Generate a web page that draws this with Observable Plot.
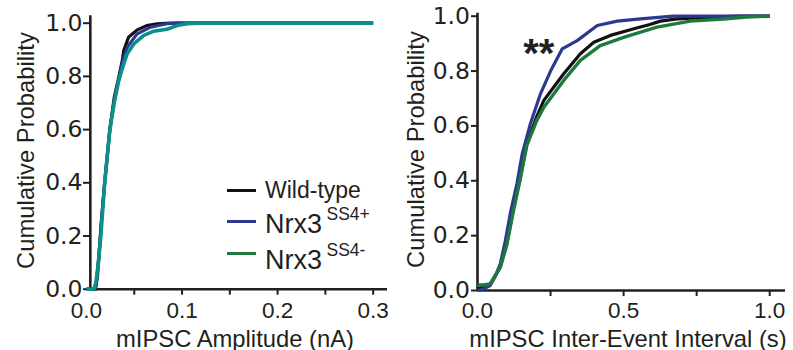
<!DOCTYPE html>
<html><head><meta charset="utf-8">
<script src="https://cdn.jsdelivr.net/npm/d3@7"></script>
<script src="https://cdn.jsdelivr.net/npm/@observablehq/plot@0.6"></script>
<style>
body{margin:0;background:#fff;}
#wrap{position:relative;width:793px;height:350px;display:flex;font-family:"Liberation Sans",Arial,sans-serif;color:#231f20;overflow:hidden}
#left{position:relative;width:395px;height:350px}
#right{position:relative;width:398px;height:350px}
.lg{position:absolute;white-space:nowrap;}
.lgline{position:absolute;height:3px;width:29px;}
svg{overflow:visible}
</style></head><body>
<div id="wrap"><div id="left"></div><div id="right"></div></div>
<script>
// ---- series names / legend ----
const seriesNames = ["Wild-type", "Nrx3", "Nrx3"];
const seriesSup = ["", "SS4+", "SS4-"];
const ampColors = ["#111111", "#2b3990", "#0b8f89"];
const ieiColors = ["#111111", "#2b3990", "#1d7a3c"];

// ---- mIPSC amplitude (nA) cumulative probability ----
const ampWildType = [[0,0],[0.0095,0],[0.0115,0.05],[0.0135,0.15],[0.0155,0.25],[0.019,0.4],[0.0244,0.6],[0.029,0.72],[0.034,0.8],[0.0375,0.86],[0.039,0.897],[0.044,0.947],[0.053,0.975],[0.063,0.991],[0.074,0.998],[0.088,1],[0.3,1]];
const ampSS4plus = [[0,0],[0.009,0],[0.011,0.05],[0.0135,0.15],[0.0155,0.25],[0.019,0.4],[0.0244,0.6],[0.029,0.71],[0.0345,0.8],[0.038,0.86],[0.0426,0.91],[0.053,0.96],[0.067,0.985],[0.084,0.998],[0.095,1],[0.3,1]];
const ampSS4minus = [[0,0],[0.008,0],[0.01,0.03],[0.0125,0.1],[0.015,0.2],[0.019,0.4],[0.0245,0.6],[0.029,0.7],[0.0335,0.78],[0.0366,0.82],[0.039,0.847],[0.0426,0.885],[0.0495,0.922],[0.06,0.954],[0.0704,0.97],[0.084,0.977],[0.095,0.991],[0.105,0.998],[0.119,1],[0.3,1]];

// ---- mIPSC inter-event interval (s) cumulative probability ----
const ieiWildType = [[0,0.005],[0.043,0.02],[0.078,0.085],[0.1,0.17],[0.123,0.3],[0.146,0.41],[0.169,0.535],[0.203,0.635],[0.227,0.693],[0.295,0.79],[0.352,0.863],[0.398,0.905],[0.455,0.93],[0.535,0.954],[0.59,0.97],[0.626,0.982],[0.683,0.99],[0.785,0.996],[0.9,1],[1,1]];
const ieiSS4plus = [[0,0],[0.02,0.005],[0.043,0.018],[0.06,0.05],[0.078,0.097],[0.095,0.18],[0.112,0.28],[0.135,0.39],[0.153,0.498],[0.181,0.608],[0.2155,0.717],[0.25,0.8],[0.29,0.881],[0.341,0.911],[0.41,0.966],[0.478,0.982],[0.558,0.99],[0.67,1],[1,1]];
const ieiSS4minus = [[0,0.02],[0.02,0.02],[0.043,0.024],[0.078,0.085],[0.1,0.165],[0.123,0.29],[0.146,0.405],[0.169,0.53],[0.203,0.62],[0.227,0.668],[0.295,0.766],[0.352,0.839],[0.42,0.893],[0.5,0.923],[0.614,0.96],[0.728,0.982],[0.842,0.99],[0.92,0.997],[1,1]];

// ---- ticks & labels ----
const ampTickLabels = [0, 0.1, 0.2, 0.3];
const ampTickMarks = [0.05, 0.1, 0.15, 0.2, 0.25, 0.3];
const ieiTickLabels = [0, 0.5, 1.0];
const ieiTickMarks = [0.25, 0.5, 0.75, 1.0];
const probTicks = [0, 0.2, 0.4, 0.6, 0.8, 1.0];
const yLabel = "Cumulative Probability";
const ampLabel = "mIPSC Amplitude (nA)";
const ieiLabel = "mIPSC Inter-Event Interval (s)";
const annotation = [{x: 0.21, y: 0.86, text: "**"}];

const ink = "#231f20";
const font = "'Liberation Sans', Arial, sans-serif";
const yTickFont = "'DejaVu Sans', sans-serif";
const rows = s => s.map(([x, y]) => ({x, y}));

function seriesMarks(list, colors, widths) {
  return list.map((s, i) => Plot.line(rows(s), {x: "x", y: "y", stroke: colors[i], strokeWidth: widths[i], strokeLinejoin: "round", strokeLinecap: "butt"}));
}

const left = Plot.plot({
  width: 395, height: 350,
  marginLeft: 86, marginRight: 8, marginTop: 22.7, marginBottom: 61.3,
  style: {fontFamily: font, background: "white", overflow: "visible"},
  x: {domain: [0, 0.315]},
  y: {domain: [0, 1]},
  marks: [
    Plot.axisY(probTicks, {anchor: "left", tickSize: 7, tickPadding: 1, dx: 4, fontSize: 23.5, fontFamily: yTickFont, color: ink, strokeWidth: 2, label: null, tickFormat: d => d.toFixed(1)}),
    Plot.axisX(ampTickLabels, {anchor: "bottom", tickSize: 0, tickPadding: 13, fontSize: 22.5, color: ink, label: null, tickFormat: d => d.toFixed(1)}),
    Plot.axisX(ampTickMarks, {anchor: "bottom", tickSize: 6, strokeWidth: 2, color: ink, label: null, tickFormat: () => ""}),
    Plot.ruleX([0.004], {y1: -0.005, y2: 1.028, stroke: ink, strokeWidth: 2.6}),
    Plot.ruleY([0], {x1: 0.004, x2: 0.315, stroke: ink, strokeWidth: 2.6}),
    ...seriesMarks([ampWildType, ampSS4plus, ampSS4minus], ampColors, [3.2, 3.2, 3.6]),
    Plot.text([yLabel], {frameAnchor: "left", textAnchor: "middle", rotate: -90, dx: -53, dy: -5.7, lineAnchor: "bottom", fontSize: 23.8, fill: ink}),
    Plot.text([ampLabel], {frameAnchor: "bottom", textAnchor: "middle", dx: -2, dy: 57.3, lineAnchor: "bottom", fontSize: 23.8, fill: ink})
  ]
});

const right = Plot.plot({
  width: 398, height: 350,
  marginLeft: 82, marginRight: 8, marginTop: 15.7, marginBottom: 60,
  style: {fontFamily: font, background: "white", overflow: "visible"},
  x: {domain: [0, 1.054]},
  y: {domain: [0, 1]},
  marks: [
    Plot.axisY(probTicks, {anchor: "left", tickSize: 6, tickPadding: 1.5, fontSize: 23.5, fontFamily: yTickFont, color: ink, strokeWidth: 2, label: null, tickFormat: d => d.toFixed(1)}),
    Plot.axisX(ieiTickLabels, {anchor: "bottom", tickSize: 0, tickPadding: 11.7, fontSize: 22.5, color: ink, label: null, tickFormat: d => d.toFixed(1)}),
    Plot.axisX(ieiTickMarks, {anchor: "bottom", tickSize: 6, strokeWidth: 2, color: ink, label: null, tickFormat: () => ""}),
    Plot.ruleX([0], {y1: -0.004, y2: 1.011, stroke: ink, strokeWidth: 2.6}),
    Plot.ruleY([0], {x1: 0, x2: 1.054, stroke: ink, strokeWidth: 2.6}),
    ...seriesMarks([ieiWildType, ieiSS4plus, ieiSS4minus], ieiColors, [3.2, 3.2, 3.4]),
    Plot.text(annotation, {x: "x", y: "y", text: "text", fontSize: 40, fontWeight: "bold", fill: ink, lineAnchor: "middle"}),
    Plot.text([yLabel], {frameAnchor: "left", textAnchor: "middle", rotate: -90, dx: -53.7, dy: -3.8, lineAnchor: "bottom", fontSize: 23.8, fill: ink}),
    Plot.text([ieiLabel], {frameAnchor: "bottom", textAnchor: "middle", dx: -3.5, dy: 56, lineAnchor: "bottom", fontSize: 23.8, fill: ink})
  ]
});

document.getElementById("left").appendChild(left);
document.getElementById("right").appendChild(right);

// ---- legend (HTML overlay on left panel) ----
const legendLineY = [190.7, 221.7, 253.3];
const legendBase = [198.3, 234, 270];
const supBase = [null, 220.7, 257.3];
const lg = document.getElementById("left");
function place(text, x, baseline, size) {
  const el = document.createElement("div");
  el.className = "lg";
  el.textContent = text;
  el.style.fontSize = size + "px";
  el.style.lineHeight = size + "px";
  el.style.left = x + "px";
  el.style.top = (baseline - 0.8465 * size) + "px";
  lg.appendChild(el);
  return el;
}
seriesNames.forEach((name, i) => {
  const line = document.createElement("div");
  line.className = "lgline";
  line.style.left = "227px";
  line.style.top = (legendLineY[i] - 1.5) + "px";
  line.style.background = ieiColors[i];
  lg.appendChild(line);
  const size = seriesSup[i] ? 27 : 23;
  const el = place(name, 265, legendBase[i], size);
  if (seriesSup[i]) {
    const w = el.getBoundingClientRect().width;
    place(seriesSup[i], 265 + w + 4.5, supBase[i], 17.5);
  }
});
</script>
</body></html>
